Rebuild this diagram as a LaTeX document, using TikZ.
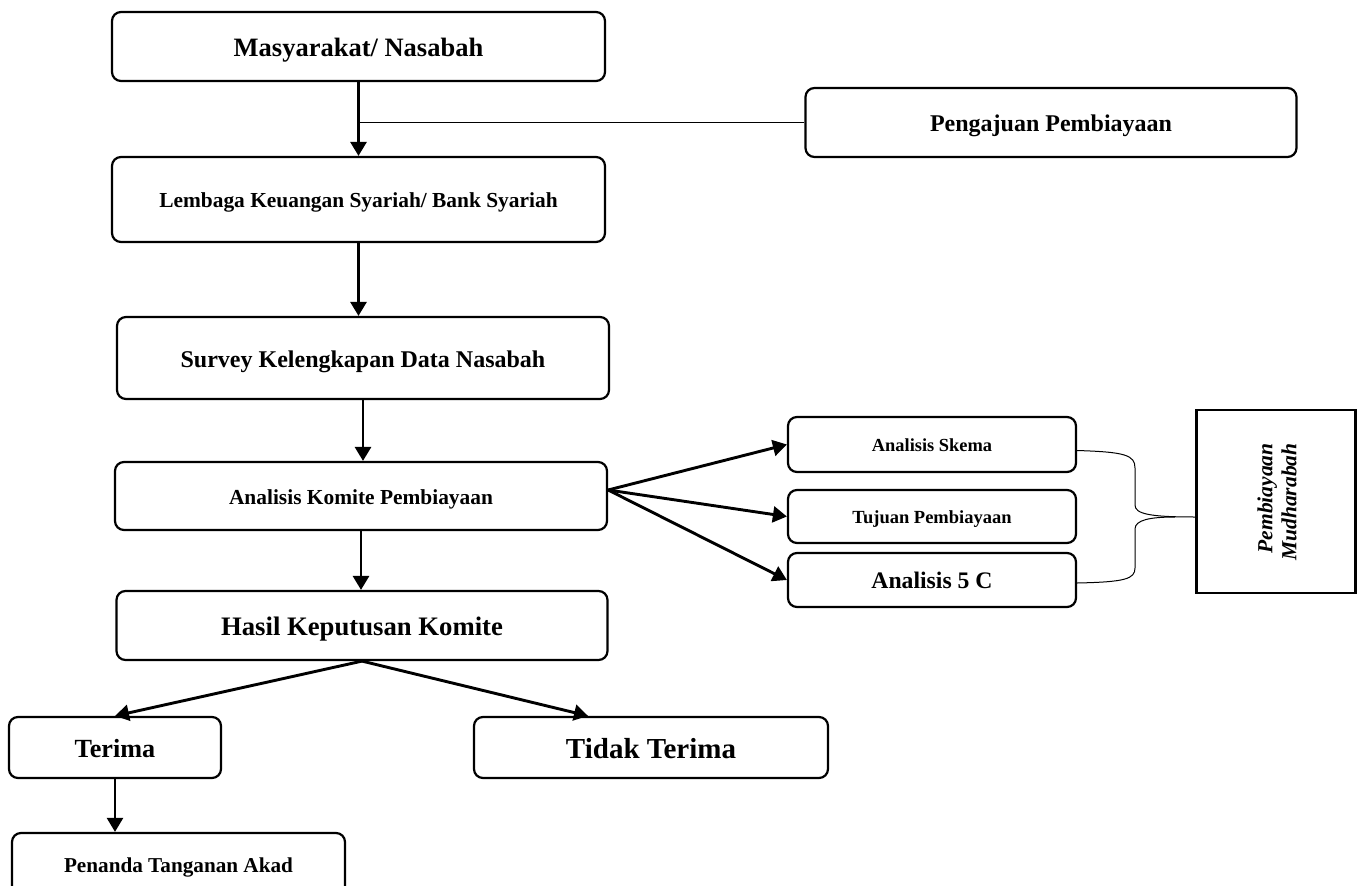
\documentclass[tikz,border=0pt]{standalone}
\usepackage{fontspec}
\setmainfont{Liberation Serif}
\usetikzlibrary{arrows.meta,calc}

\begin{document}
\begin{tikzpicture}[x=1pt,y=-1pt,
  box/.style={draw,line width=2.2pt,rounded corners=9pt,align=center,inner sep=0pt,
    font=\fontsize{#1}{#1}\selectfont\bfseries,text height={\dimexpr#1pt*3/4\relax},text depth=0pt},
  sidebox/.style={draw,line width=2.2pt,inner sep=0pt},
  arr/.style={line width=2.9pt,-{Triangle[length=14pt,width=16pt]}},
  thinline/.style={line width=1pt}]
  \useasboundingbox (0,0) rectangle (1361,886);

  % Main flow
  \node[box=26.5,minimum width=493,minimum height=69] (ma) at (358.5,46.5) {Masyarakat/ Nasabah};
  \node[box=24,minimum width=491,minimum height=69] (peng) at (1051,122.5) {Pengajuan Pembiayaan};
  \node[box=21.4,minimum width=493,minimum height=85] (lkbs) at (358.5,199.5) {Lembaga Keuangan Syariah/ Bank Syariah};
  \node[box=24,minimum width=492,minimum height=82] (survey) at (363,358) {Survey Kelengkapan Data Nasabah};
  \node[box=21.4,minimum width=492,minimum height=68] (komite) at (361,496) {Analisis Komite Pembiayaan};
  \node[box=26.7,minimum width=491,minimum height=69] (hasil) at (362,625.5) {Hasil Keputusan Komite};

  % Decision
  \node[box=26.2,minimum width=212,minimum height=61] (terima) at (115,747.5) {Terima};
  \node[box=29,minimum width=354,minimum height=61] (tidak) at (651,747.5) {Tidak Terima};
  \node[box=21.2,minimum width=333,minimum height=64] (akad) at (178.5,865) {Penanda Tanganan Akad};

  % Analysis items
  \node[box=18.4,minimum width=288,minimum height=55] (skema) at (932,444.5) {Analisis Skema};
  \node[box=18.5,minimum width=288,minimum height=53] (tujuan) at (932,516.5) {Tujuan Pembiayaan};
  \node[box=23.7,minimum width=288,minimum height=54] (limac) at (932,580) {Analisis 5 C};
  \node[sidebox,minimum width=159,minimum height=183] (mudh) at (1276,501.5) {};
  \node[rotate=90,align=right,font=\fontsize{21.5}{24}\selectfont\bfseries\itshape] (mudhtxt) at (1277,502) {Pembiayaan\\Mudharabah};

  % Connectors
  \draw[arr] (ma.south) -- (ma.south |- lkbs.north);
  \draw[thinline] (peng.west) -- (ma.south |- peng.west);
  \draw[arr] (lkbs.south) -- (lkbs.south |- survey.north);
  \draw[arr] (survey.south) -- (survey.south |- komite.north);
  \draw[arr] (komite.south) -- (komite.south |- hasil.north);
  \coordinate (fan) at ([yshift=6pt]komite.east);
  \draw[arr] (fan) -- (skema.west);
  \draw[arr] (fan) -- (tujuan.west);
  \draw[arr] (fan) -- (limac.west);
  \draw[arr] (hasil.south) -- (terima.north);
  \draw[arr] (hasil.south) -- ([xshift=-63pt]tidak.north);
  \draw[arr,line width=2.3pt] (terima.south) -- (terima.south |- akad.north);

  % Brace to Mudharabah
  \draw[thinline] ([yshift=-6pt]skema.east) .. controls (1125,452) and (1135,455) .. (1135,468)
    -- (1135,505) .. controls (1135,514) and (1150,517) .. (mudh.west |- 0,517);
  \draw[thinline] ([yshift=-3pt]limac.east) .. controls (1125,582) and (1135,579) .. (1135,568)
    -- (1135,529) .. controls (1135,520) and (1150,517) .. (1175,517);
\end{tikzpicture}
\end{document}
